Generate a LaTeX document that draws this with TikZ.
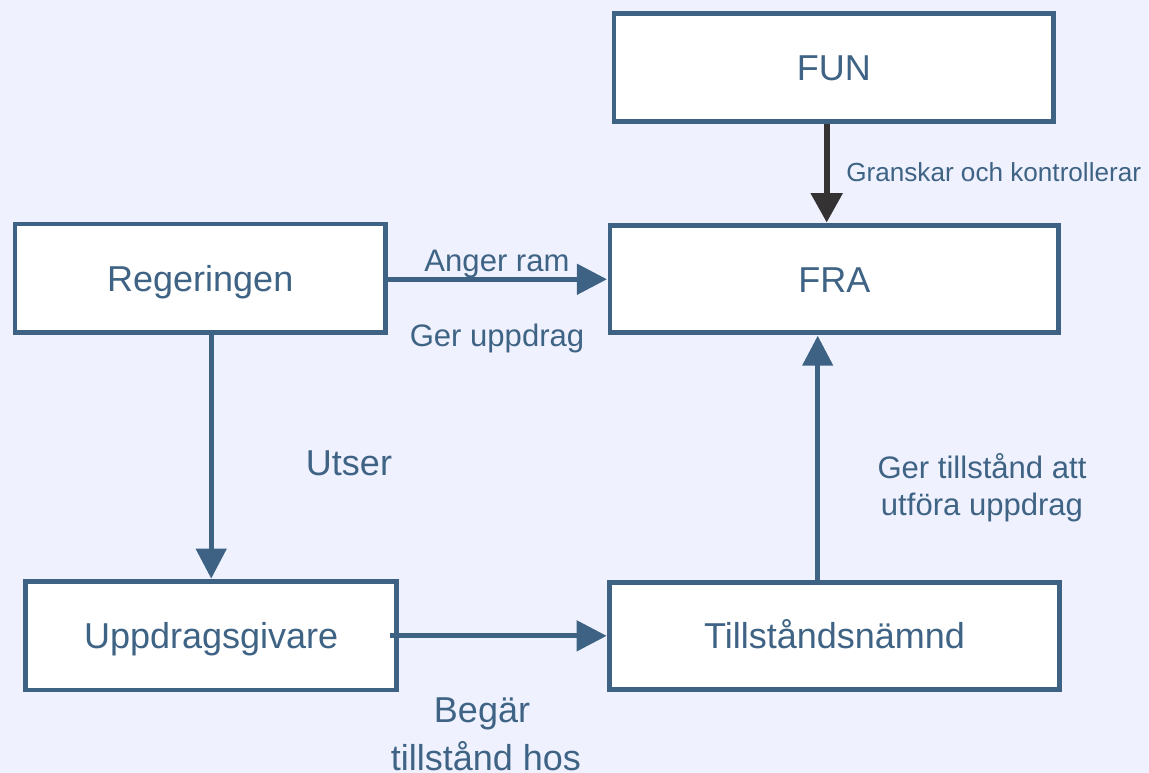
\documentclass[tikz,border=0pt]{standalone}
\usepackage{fontspec}
\setmainfont{Liberation Sans}
\usetikzlibrary{arrows.meta,calc}
\definecolor{bgc}{HTML}{EFF2FE}
\definecolor{stroke}{HTML}{3E6283}
\definecolor{txt}{HTML}{3F6384}
\definecolor{dark}{HTML}{353233}
\tikzset{
  box/.style={draw=stroke, line width=3.4pt, fill=white, rectangle, inner sep=0pt, text=txt,
    text height=19.3pt, text depth=0pt,
    font=\fontsize{27pt}{32pt}\selectfont},
  arr/.style={draw=stroke, line width=3.6pt, -{Triangle[width=22.5pt,length=22.5pt]}},
  darr/.style={draw=dark, line width=4.5pt, -{Triangle[width=23pt,length=22pt]}},
  biglbl/.style={text=txt, font=\fontsize{27pt}{32pt}\selectfont, inner sep=0pt, anchor=base},
  midlbl/.style={text=txt, font=\fontsize{23.3pt}{28pt}\selectfont, inner sep=0pt, anchor=base},
  smalllbl/.style={text=txt, font=\fontsize{19.6pt}{23pt}\selectfont, inner sep=0pt, anchor=base west}
}
\begin{document}
\begin{tikzpicture}[x=0.75pt, y=-0.75pt]
\useasboundingbox (0,0) rectangle (1149,773);
\fill[bgc] (0,0) rectangle (1149,773);

\node[box, minimum width=329.6pt, minimum height=81.3pt] (fun) at (833.75,67.5) {FUN};
\node[box, minimum width=336.5pt, minimum height=80.3pt] (fra) at (834.35,279.15) {FRA};
\node[box, minimum width=277.9pt, minimum height=81.5pt] (reg) at (200.25,278.35) {Regeringen};
\node[box, minimum width=278.3pt, minimum height=81.2pt] (upp) at (211.2,635.85) {Uppdragsgivare};
\node[box, minimum width=337.2pt, minimum height=80.3pt] (till) at (834.5,635.8) {Tillståndsnämnd};

% FUN -> FRA
\draw[darr] ([xshift=-5.3pt]fun.south) coordinate (f1) -- ([yshift=0.6pt]f1 |- fra.north);
% Regeringen -> FRA
\draw[arr] ([yshift=-0.7pt]reg.east) coordinate (r1) -- ([xshift=-0.6pt]r1 -| fra.west);
% Regeringen -> Uppdragsgivare
\draw[arr] (reg.south -| upp.north) -- ([yshift=0.6pt]upp.north);
% Uppdragsgivare -> Tillstandsnamnd
\draw[arr] ([xshift=-6.8pt]upp.east) coordinate (u1) -- ([xshift=-0.6pt]u1 -| till.west);
% Tillstandsnamnd -> FRA
\draw[arr] ([xshift=-12.6pt]till.north) coordinate (t1) -- ([yshift=-0.6pt]t1 |- fra.south);

% labels
\node[smalllbl] (lgr) at (846,181.7) {Granskar och kontrollerar};
\node[midlbl] (lan) at (497,271.7) {Anger ram};
\node[midlbl] (lge) at (497,346.7) {Ger uppdrag};
\node[biglbl] (lut) at (349,475) {Utser};
\node[midlbl] (lti1) at (982,478) {Ger tillstånd att};
\node[midlbl] (lti2) at (982,515) {utföra uppdrag};
\node[biglbl] (lbe1) at (482,722) {Begär};
\node[biglbl] (lbe2) at (486,770) {tillstånd hos};
\end{tikzpicture}
\end{document}
